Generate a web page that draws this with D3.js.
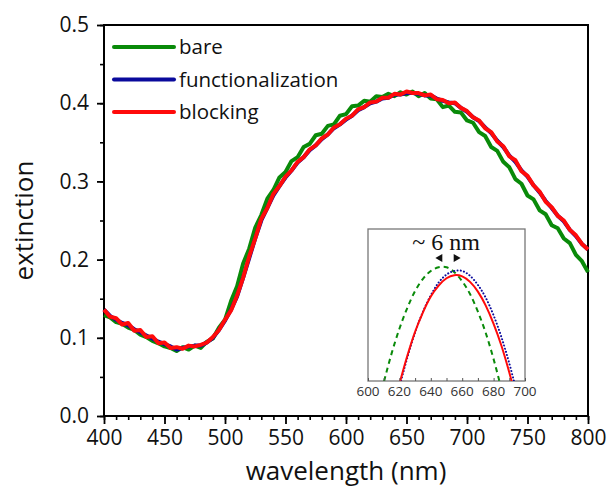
<!DOCTYPE html>
<html>
<head>
<meta charset="utf-8">
<script src="https://cdn.jsdelivr.net/npm/d3@7"></script>
<style>
  body { margin: 0; background: #fff; }
  svg { font-family: "Open Sans", sans-serif; }
</style>
</head>
<body>
<svg id="chart" width="611" height="493"></svg>
<script>
// wavelengths every 5 nm, 400..800
var wavelengths = d3.range(400, 801, 5);

var bare = [
  0.129,0.126,0.120,0.118,0.113,0.110,0.104,0.101,0.096,0.093,
  0.089,0.087,0.083,0.088,0.085,0.090,0.087,0.095,0.099,0.113,
  0.123,0.147,0.166,0.195,0.214,0.241,0.257,0.278,0.289,0.305,
  0.312,0.326,0.331,0.344,0.348,0.359,0.361,0.371,0.373,0.384,
  0.386,0.396,0.397,0.403,0.402,0.409,0.408,0.412,0.409,0.414,
  0.411,0.415,0.409,0.413,0.406,0.405,0.395,0.397,0.389,0.388,
  0.378,0.375,0.363,0.358,0.344,0.339,0.325,0.318,0.303,0.297,
  0.282,0.277,0.263,0.258,0.244,0.240,0.227,0.221,0.206,0.198,
  0.184];
var functionalization = [
  0.136,0.128,0.123,0.119,0.116,0.111,0.107,0.103,0.099,0.095,
  0.092,0.089,0.085,0.087,0.089,0.090,0.090,0.094,0.100,0.110,
  0.122,0.136,0.153,0.177,0.202,0.227,0.250,0.266,0.282,0.294,
  0.305,0.314,0.324,0.331,0.340,0.346,0.354,0.360,0.368,0.373,
  0.379,0.384,0.391,0.395,0.400,0.402,0.406,0.407,0.411,0.411,
  0.413,0.413,0.412,0.410,0.410,0.406,0.403,0.401,0.400,0.394,
  0.389,0.382,0.377,0.369,0.362,0.352,0.344,0.333,0.325,0.314,
  0.306,0.295,0.286,0.275,0.266,0.256,0.249,0.238,0.230,0.220,
  0.213];
var blocking = [
  0.136,0.127,0.125,0.117,0.119,0.109,0.110,0.101,0.102,0.093,
  0.094,0.087,0.088,0.086,0.090,0.089,0.091,0.094,0.101,0.110,
  0.123,0.135,0.154,0.177,0.204,0.227,0.252,0.266,0.284,0.294,
  0.306,0.314,0.325,0.331,0.341,0.346,0.355,0.360,0.369,0.373,
  0.380,0.384,0.392,0.395,0.401,0.402,0.407,0.407,0.412,0.411,
  0.415,0.413,0.413,0.410,0.411,0.405,0.404,0.400,0.401,0.394,
  0.390,0.382,0.378,0.368,0.363,0.351,0.345,0.332,0.327,0.313,
  0.307,0.295,0.287,0.274,0.267,0.256,0.250,0.238,0.231,0.220,
  0.213];

// inset: fitted peaks near the maximum
var insetWlBare = [605,610,615,620,625,630,635,640,645,650,655,660,665,670,675,680,685,690];
var insetBare = [0.3842,0.3897,0.3945,0.3986,0.4020,0.4048,0.4068,0.4081,0.4087,0.4087,0.4079,0.4064,0.4043,0.4014,0.3979,0.3936,0.3886,0.3830];
var insetWl = [620,625,630,635,640,645,650,655,660,665,670,675,680,685,690,695];
var insetFunc = [0.3890,0.3938,0.3980,0.4014,0.4041,0.4062,0.4075,0.4081,0.4081,0.4073,0.4058,0.4037,0.4008,0.3972,0.3929,0.3879];
var insetBlock = [0.3895,0.3941,0.3981,0.4013,0.4039,0.4057,0.4069,0.4074,0.4072,0.4063,0.4047,0.4024,0.3994,0.3958,0.3914,0.3864];

var xTicks = [400,450,500,550,600,650,700,750,800];
var yTicks = [0.0,0.1,0.2,0.3,0.4,0.5];
var insetTicks = [600,620,640,660,680,700];

var seriesNames = ["bare", "functionalization", "blocking"];
var colors = {bare: "#098a09", functionalization: "#0a0a9c", blocking: "#ff0a0a"};

var svg = d3.select("#chart");
var plotL = 104, plotR = 588, plotT = 25, plotB = 416;

var x = d3.scaleLinear().domain([400, 800]).range([plotL, plotR]);
var y = d3.scaleLinear().domain([0, 0.5]).range([plotB, plotT]);

// minor ticks
svg.append("g")
  .attr("transform", "translate(0," + plotB + ")")
  .call(d3.axisBottom(x).tickValues(d3.range(400, 801, 10)).tickSize(4).tickFormat(""))
  .call(g => g.select(".domain").remove())
  .selectAll("line").attr("stroke-width", 1.6);
svg.append("g")
  .attr("transform", "translate(" + plotL + ",0)")
  .call(d3.axisLeft(y).tickValues(d3.range(0, 0.51, 0.05)).tickSize(4).tickFormat(""))
  .call(g => g.select(".domain").remove())
  .selectAll("line").attr("stroke-width", 1.6);

// major ticks
var xAxis = svg.append("g")
  .attr("transform", "translate(0," + plotB + ")")
  .call(d3.axisBottom(x).tickValues(xTicks).tickSize(8).tickPadding(6).tickSizeOuter(0));
xAxis.selectAll("line").attr("stroke-width", 1.8);
xAxis.selectAll("text").attr("font-size", 21).attr("font-family", "Open Sans").attr("fill", "#111");
xAxis.select(".domain").remove();

var yAxis = svg.append("g")
  .attr("transform", "translate(" + plotL + ",0)")
  .call(d3.axisLeft(y).tickValues(yTicks).tickFormat(d3.format(".1f")).tickSize(7).tickPadding(8).tickSizeOuter(0));
yAxis.selectAll("line").attr("stroke-width", 1.8);
yAxis.selectAll("text").attr("font-size", 21).attr("font-family", "Open Sans").attr("fill", "#111");
yAxis.select(".domain").remove();

// frame
svg.append("rect")
  .attr("x", plotL).attr("y", plotT)
  .attr("width", plotR - plotL).attr("height", plotB - plotT)
  .attr("fill", "none").attr("stroke", "#000").attr("stroke-width", 2);

// curves
var line = d3.line()
  .x((d, i) => x(wavelengths[i]))
  .y(d => y(d));

var data = {bare: bare, functionalization: functionalization, blocking: blocking};
["bare", "functionalization", "blocking"].forEach(function(name) {
  svg.append("path")
    .datum(data[name])
    .attr("d", line)
    .attr("fill", "none")
    .attr("stroke", colors[name])
    .attr("stroke-width", 4)
    .attr("stroke-linejoin", "round");
});

// legend
var legend = svg.append("g");
seriesNames.forEach(function(name, i) {
  var ly = 47 + i * 32.5;
  legend.append("line")
    .attr("x1", 114).attr("x2", 174)
    .attr("y1", ly).attr("y2", ly)
    .attr("stroke", colors[name]).attr("stroke-width", 4).attr("stroke-linecap", "round");
  legend.append("text")
    .attr("x", 179).attr("y", ly + 7)
    .attr("font-size", 20.5)
    .attr("fill", "#111")
    .text(name);
});

// axis titles
svg.append("text")
  .attr("x", (plotL + plotR) / 2).attr("y", 480)
  .attr("text-anchor", "middle")
  .attr("font-size", 26).attr("fill", "#111")
  .text("wavelength (nm)");
svg.append("text")
  .attr("transform", "translate(33," + ((plotT + plotB) / 2) + ") rotate(-90)")
  .attr("text-anchor", "middle")
  .attr("font-size", 26).attr("fill", "#111")
  .text("extinction");

// inset
var iL = 368, iR = 525, iT = 229, iB = 381;
var ix = d3.scaleLinear().domain([600, 700]).range([iL, iR]);
var iy = d3.scaleLinear().domain([0.39, 0.415]).range([iB, iT]);

var inset = svg.append("g");
inset.append("rect")
  .attr("x", iL).attr("y", iT).attr("width", iR - iL).attr("height", iB - iT)
  .attr("fill", "#fff").attr("stroke", "#777").attr("stroke-width", 1.3);

svg.append("clipPath").attr("id", "insetClip")
  .append("rect").attr("x", iL).attr("y", iT).attr("width", iR - iL).attr("height", iB - iT);

var inner = inset.append("g").attr("clip-path", "url(#insetClip)");
var lineBare = d3.line().curve(d3.curveCardinal).x((d, i) => ix(insetWlBare[i])).y(d => iy(d));
var lineFit = d3.line().curve(d3.curveCardinal).x((d, i) => ix(insetWl[i])).y(d => iy(d));

inner.append("path").datum(insetBare).attr("d", lineBare)
  .attr("fill", "none").attr("stroke", colors.bare).attr("stroke-width", 2)
  .attr("stroke-dasharray", "5,4");
inner.append("path").datum(insetFunc).attr("d", lineFit)
  .attr("fill", "none").attr("stroke", colors.functionalization).attr("stroke-width", 2)
  .attr("stroke-dasharray", "0.1,3.2").attr("stroke-linecap", "round");
inner.append("path").datum(insetBlock).attr("d", lineFit)
  .attr("fill", "none").attr("stroke", colors.blocking).attr("stroke-width", 2);

var insetAxis = inset.append("g")
  .attr("transform", "translate(0," + iB + ")")
  .call(d3.axisTop(ix).tickValues(d3.range(600, 701, 10)).tickSize(3).tickFormat(""));
insetAxis.select(".domain").remove();
insetAxis.selectAll("line").attr("stroke", "#555");

inset.selectAll(".ilabel")
  .data(insetTicks)
  .enter().append("text")
  .attr("class", "ilabel")
  .attr("x", d => ix(d)).attr("y", iB + 15)
  .attr("text-anchor", "middle")
  .attr("font-size", 13.5).attr("fill", "#333")
  .text(d => d);

inset.append("text")
  .attr("x", 446).attr("y", 250)
  .attr("text-anchor", "middle")
  .attr("font-family", "Liberation Serif, serif")
  .attr("font-size", 24).attr("fill", "#111")
  .text("~ 6 nm");

var tri = d3.symbol().type(d3.symbolTriangle).size(28);
inset.append("path").attr("d", tri).attr("fill", "#111")
  .attr("transform", "translate(440,258) rotate(-90)");
inset.append("path").attr("d", tri).attr("fill", "#111")
  .attr("transform", "translate(456,258) rotate(90)");
</script>
</body>
</html>
